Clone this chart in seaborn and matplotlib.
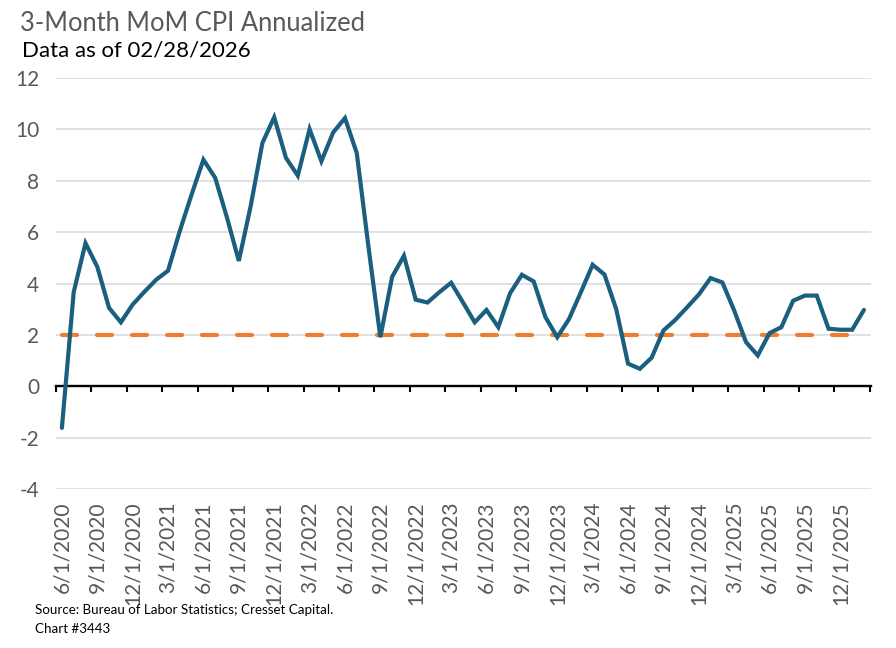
import matplotlib
matplotlib.use("Agg")
import matplotlib.pyplot as plt
import seaborn as sns
import pandas as pd
import numpy as np

# ---- data ----
dates = pd.date_range("2020-06-01", "2026-02-01", freq="MS")
cpi_3m_annualized = [
    -1.62, 3.66, 5.57, 4.65, 3.05, 2.49, 3.18, 3.68, 4.15, 4.50,
    6.05, 7.47, 8.82, 8.11, 6.56, 4.88, 7.00, 9.47, 10.47, 8.89,
    8.20, 10.01, 8.76, 9.88, 10.44, 9.08, 5.40, 1.91, 4.26, 5.08,
    3.37, 3.26, 3.66, 4.03, 3.27, 2.49, 2.97, 2.30, 3.62, 4.34,
    4.08, 2.69, 1.91, 2.62, 3.66, 4.73, 4.35, 3.00, 0.88, 0.68,
    1.11, 2.17, 2.58, 3.07, 3.57, 4.21, 4.04, 2.95, 1.72, 1.20,
    2.07, 2.30, 3.33, 3.53, 3.53, 2.24, 2.20, 2.20, 2.97,
]
target = [2.0] * len(cpi_3m_annualized)
date_labels = [f"{d.month}/1/{d.year}" for d in dates]
y_ticks = [-4, -2, 0, 2, 4, 6, 8, 10, 12]

df = pd.DataFrame({
    "idx": np.arange(len(dates)),
    "cpi": cpi_3m_annualized,
    "target": target,
})

sns.set_theme(style="white")
plt.rcParams["font.family"] = ["Lato", "DejaVu Sans"]

fig = plt.figure(figsize=(8.96, 6.48), dpi=100)
ax = fig.add_axes([56 / 896, 1 - 489 / 648, (871 - 56) / 896, (489 - 78) / 648])

grey = "#595959"
ax.set_ylim(-4, 12)
ax.set_xlim(-0.5, len(dates) - 0.5 + 0.1)
ax.set_yticks(y_ticks)
ax.yaxis.grid(True, color="#D9D9D9", linewidth=1.1)
ax.xaxis.grid(False)
ax.set_axisbelow(True)

sns.lineplot(data=df, x="idx", y="target", ax=ax, color="#ED7D31",
             linewidth=3.0, dashes=False, zorder=3)
ax.lines[-1].set_dashes([3.6, 4.8])
ax.lines[-1].set_dash_capstyle("round")
sns.lineplot(data=df, x="idx", y="cpi", ax=ax, color="#1A5E80",
             linewidth=3.0, zorder=4)
ax.lines[-1].set_solid_joinstyle("miter")

for s in ["top", "right", "left"]:
    ax.spines[s].set_visible(False)
ax.spines["bottom"].set_position(("data", 0))
ax.spines["bottom"].set_color("black")
ax.spines["bottom"].set_linewidth(1.7)
ax.spines["bottom"].set_zorder(2)

boundaries = np.arange(-0.5, len(dates) + 0.5, 3)
ax.set_xticks(boundaries)
ax.set_xticklabels([])
ax.tick_params(axis="x", which="major", direction="out", length=4.5,
               width=1.5, color="black", bottom=True)
ax.tick_params(axis="y", length=0, pad=12, labelsize=15, labelcolor=grey)
ax.set_yticklabels([str(t) for t in y_ticks])
ax.set_xlabel("")
ax.set_ylabel("")

sec = ax.secondary_xaxis("bottom")
label_pos = df["idx"].values[::3]
sec.set_xticks(label_pos)
sec.set_xticklabels([date_labels[i] for i in label_pos], rotation=90,
                    fontsize=15, color=grey)
sec.tick_params(length=0, pad=9)
sec.spines["bottom"].set_visible(False)

fig.text(20 / 896, 1 - 31 / 648, "3-Month MoM CPI Annualized",
         fontsize=18.4, color=grey, va="baseline", ha="left")
fig.text(22 / 896, 1 - 56.7 / 648, "Data as of 02/28/2026",
         fontsize=16, color="black", va="baseline", ha="left")
fig.text(35 / 896, 1 - 614 / 648,
         "Source: Bureau of Labor Statistics; Cresset Capital.",
         fontsize=9.6, color="black", va="baseline", ha="left")
fig.text(35 / 896, 1 - 633 / 648, "Chart #3443",
         fontsize=9.6, color="black", va="baseline", ha="left")

fig.savefig("out.png", dpi=100)
